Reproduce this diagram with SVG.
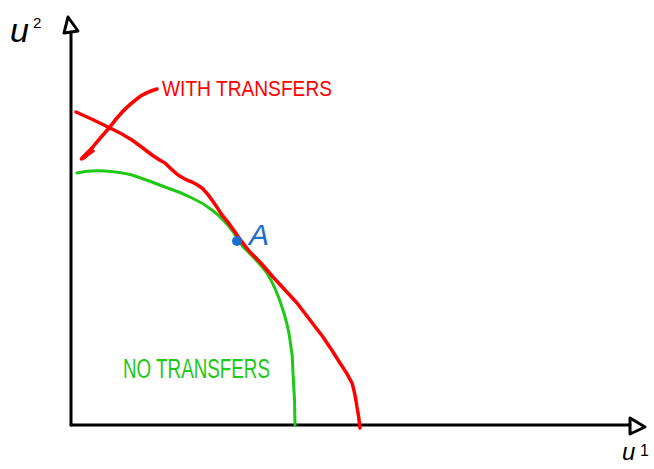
<svg xmlns="http://www.w3.org/2000/svg" width="654" height="469" viewBox="0 0 654 469">
<style>
.axis{fill:none;stroke:#000;stroke-width:3;stroke-linecap:round;stroke-linejoin:round}
.red{fill:none;stroke:#f00;stroke-width:3.5;stroke-linecap:round;stroke-linejoin:round}
.green{fill:none;stroke:#1ec814;stroke-width:3;stroke-linecap:round;stroke-linejoin:round}
.lbl{font-family:"Liberation Sans",Arial,sans-serif}
</style>
<rect width="654" height="469" fill="#fff"/>
<g id="axes">
<path class="axis" d="M71,425 L71,33"/>
<path class="axis" d="M64,33 L68,17 L78,31 Z"/>
<path class="axis" d="M71,425 L630,425"/>
<path class="axis" d="M630,418 L630,434 L645,427 Z"/>
<text class="lbl" x="10" y="42" font-size="34" font-style="italic">u</text>
<text class="lbl" x="33" y="28" font-size="15">2</text>
<text class="lbl" x="622" y="460" font-size="24" font-style="italic">u</text>
<text class="lbl" x="640" y="456" font-size="16">1</text>
</g>
<g id="connectors">
<path class="red" d="M157,89 Q146,92 138,98 Q122,110 110,127 Q100,138 92,148"/>
<path class="red" d="M92,148 L83,157 Q79,161 85,157 Q91,152 93,151" stroke-width="2.5"/>
</g>
<g id="no-transfers">
<path class="green" d="M77,173 Q90,170 105,171 Q120,172 132,175 Q150,181 165,187 Q180,192 192,198 Q203,203 212,210 Q220,216 225,222 Q232,229 243,247 Q256,259 267,273 Q276,288 282,307 Q288,325 290,340 Q293,356 293,373 Q295,400 295,425"/>
<text class="lbl" x="123" y="378" font-size="27" fill="#1ec814" textLength="147" lengthAdjust="spacingAndGlyphs">NO TRANSFERS</text>
</g>
<g id="with-transfers">
<path class="red" d="M76,112 Q92,119 108,127 Q121,133 132,140 Q143,148 152,155 Q159,160 165,163 Q172,170 178,175 Q186,180 192,182 Q198,185 202,188 Q208,194 212,200 Q217,207 222,215 Q229,223 235,232 Q240,240 250,252 Q256,258 260,262 Q267,270 273,277 Q285,290 297,303 Q310,320 323,337 Q332,350 340,363 Q347,373 352,383 Q355,393 357,407 Q359,417 360,428"/>
<text class="lbl" x="162" y="96" font-size="22" fill="#f00" textLength="170" lengthAdjust="spacingAndGlyphs">WITH TRANSFERS</text>
</g>
<g id="point-a">
<circle cx="237" cy="241" r="5" fill="#1a6fd0"/>
<text class="lbl" x="249" y="245" font-size="30" font-style="italic" fill="#1a6fd0">A</text>
</g>
</svg>
